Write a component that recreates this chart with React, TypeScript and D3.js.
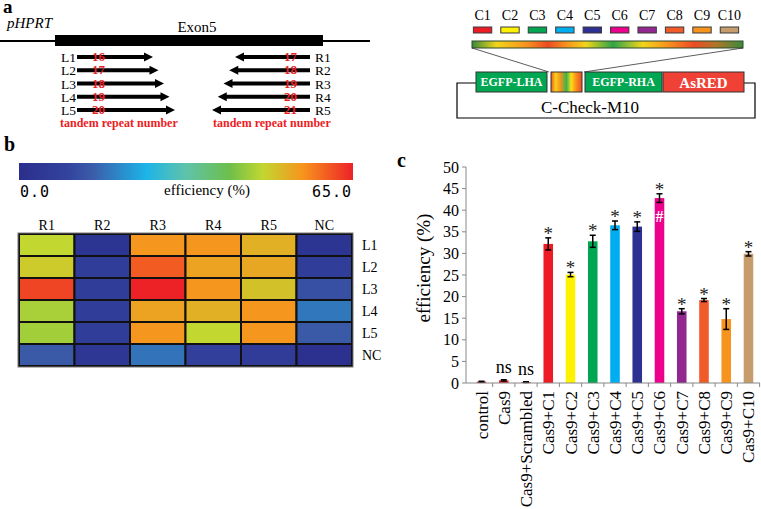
import React from "react";
import * as d3 from "d3";

// ---------- Panel a data ----------
const leftLabels = ["L1", "L2", "L3", "L4", "L5"];
const rightLabels = ["R1", "R2", "R3", "R4", "R5"];
const leftRepeats = [16, 17, 18, 19, 20];
const rightRepeats = [17, 18, 19, 20, 21];
const cassetteLabels = ["C1", "C2", "C3", "C4", "C5", "C6", "C7", "C8", "C9", "C10"];
const cassetteColors = ["#ed1c24", "#fff200", "#00a651", "#00aeef", "#2e3192", "#ec008c", "#92278f", "#f15a29", "#f7941d", "#c69c6d"];

// ---------- Panel b data ----------
const heatCols = ["R1", "R2", "R3", "R4", "R5", "NC"];
const heatRows = ["L1", "L2", "L3", "L4", "L5", "NC"];
const heatL1 = [47.5, 3, 55, 55, 52, 3];
const heatL2 = [49, 7, 60, 53.5, 53, 7];
const heatL3 = [62, 7, 65, 55, 50, 12];
const heatL4 = [45.5, 7, 53.5, 52, 55, 17.5];
const heatL5 = [45, 7, 55, 47.5, 55, 14];
const heatNC = [14, 4, 17, 8, 6, 1];
const heatValues = [heatL1, heatL2, heatL3, heatL4, heatL5, heatNC];
const heatMin = 0;
const heatMax = 65;
const heatStops = [0, 0.15, 0.22, 0.38, 0.5, 0.63, 0.73, 0.85, 1];
const heatStopColors = ["#2b2e8c", "#33449e", "#3b5ca9", "#1cb4e8", "#5fc3aa", "#6dbf4b", "#c2d730", "#f7941d", "#ed2227"];

// ---------- Panel c data ----------
const barCategories = ["control", "Cas9", "Cas9+Scrambled", "Cas9+C1", "Cas9+C2", "Cas9+C3", "Cas9+C4", "Cas9+C5", "Cas9+C6", "Cas9+C7", "Cas9+C8", "Cas9+C9", "Cas9+C10"];
const barMeans = [0.3, 0.6, 0.2, 32.2, 25.1, 32.8, 36.5, 36.2, 42.8, 16.6, 19.2, 14.8, 29.9];
const barErrors = [0.1, 0.15, 0.08, 1.4, 0.5, 1.4, 1.0, 1.1, 1.0, 0.6, 0.35, 2.4, 0.5];
const barColors = ["#ed1c24", "#ed1c24", "#ed1c24", ...cassetteColors];
const barMarks = ["", "ns", "ns", "*", "*", "*", "*", "*", "*", "*", "*", "*", "*"];
const barInner = ["", "", "", "", "", "", "", "", "#", "", "", "", ""];
const yTicks = [0, 5, 10, 15, 20, 25, 30, 35, 40, 45, 50];

const SERIF = "'Liberation Serif', 'Times New Roman', serif";
const MONO = "'DejaVu Sans Mono', monospace";

export default function App() {
  // panel a scales
  const rowY = d3.scaleLinear().domain([0, 4]).range([57, 110]);
  const leftTip = d3.scaleLinear().domain([16, 20]).range([153, 175]);
  const rightTip = d3.scaleLinear().domain([17, 21]).range([235, 212]);
  const cassX = d3.scaleBand<string>().domain(cassetteLabels).range([472, 740]).paddingInner(0.33).paddingOuter(0.05);

  // panel b scales
  const hx = d3.scaleBand<string>().domain(heatCols).range([19, 352]);
  const hy = d3.scaleBand<string>().domain(heatRows).range([234, 366]);
  const heatColor = d3
    .scaleLinear<string>()
    .domain(heatStops.map((t) => heatMin + t * (heatMax - heatMin)))
    .range(heatStopColors)
    .interpolate(d3.interpolateRgb);

  // panel c scales
  const x = d3.scaleBand<string>().domain(barCategories).range([470.5, 759.5]).paddingInner(0.57).paddingOuter(0.28);
  const y = d3.scaleLinear().domain([0, 50]).range([383, 167]);
  const step = x.step();

  const topGrad = [
    [0, "#3a8a3a"], [0.09, "#f2d51a"], [0.2, "#f7941d"], [0.28, "#ee4a24"], [0.35, "#f7941d"],
    [0.42, "#f2d51a"], [0.52, "#2ea44a"], [0.63, "#f2d51a"], [0.72, "#f7941d"], [0.82, "#ee4a24"],
    [0.9, "#b0762a"], [1, "#3a8a3a"],
  ];
  const midGrad = [
    [0, "#f15a24"], [0.15, "#f7d117"], [0.3, "#f7941d"], [0.5, "#39b54a"], [0.65, "#ffde17"], [0.8, "#f7941d"], [1, "#ee4a24"],
  ];

  return (
    <svg width={761} height={509} style={{ position: "absolute", left: 0, top: 0, background: "#fff" }} fontFamily={SERIF}>
      <defs>
        <linearGradient id="topGrad" x1="0" x2="1" y1="0" y2="0">
          {topGrad.map(([o, c], i) => <stop key={i} offset={o as number} stopColor={c as string} />)}
        </linearGradient>
        <linearGradient id="midGrad" x1="0" x2="1" y1="0" y2="0">
          {midGrad.map(([o, c], i) => <stop key={i} offset={o as number} stopColor={c as string} />)}
        </linearGradient>
        <linearGradient id="heatGrad" x1="0" x2="1" y1="0" y2="0">
          {heatStops.map((t, i) => <stop key={i} offset={t} stopColor={heatStopColors[i]} />)}
        </linearGradient>
      </defs>

      {/* ================= Panel a (left) ================= */}
      <text x={3} y={13} fontSize={19} fontWeight="bold">a</text>
      <text x={7} y={28} fontSize={15} fontStyle="italic">pHPRT</text>
      <text x={197} y={32} fontSize={15} textAnchor="middle">Exon5</text>
      <line x1={0} x2={370} y1={41} y2={41} stroke="#000" strokeWidth={2} />
      <rect x={55} y={35} width={268} height={11} fill="#000" />
      {leftRepeats.map((r, i) => {
        const yy = rowY(i);
        const tip = leftTip(r);
        return (
          <g key={"l" + i}>
            <text x={76} y={yy + 5} fontSize={13.5} textAnchor="end">{leftLabels[i]}</text>
            <line x1={77} x2={tip - 7} y1={yy} y2={yy} stroke="#000" strokeWidth={4} />
            <polygon points={`${tip},${yy} ${tip - 9},${yy - 4.5} ${tip - 9},${yy + 4.5}`} fill="#000" />
            <text x={92} y={yy + 4} fontSize={13} fontWeight="bold" fill="#ee1c25">{r}</text>
          </g>
        );
      })}
      {rightRepeats.map((r, i) => {
        const yy = rowY(i);
        const tip = rightTip(r);
        return (
          <g key={"r" + i}>
            <text x={315} y={yy + 5} fontSize={13.5}>{rightLabels[i]}</text>
            <line x1={310} x2={tip + 7} y1={yy} y2={yy} stroke="#000" strokeWidth={4} />
            <polygon points={`${tip},${yy} ${tip + 9},${yy - 4.5} ${tip + 9},${yy + 4.5}`} fill="#000" />
            <text x={297} y={yy + 4} fontSize={13} fontWeight="bold" fill="#ee1c25" textAnchor="end">{r}</text>
          </g>
        );
      })}
      <text x={60} y={127} fontSize={12} fontWeight="bold" fill="#ee1c25">tandem repeat number</text>
      <text x={213} y={127} fontSize={12} fontWeight="bold" fill="#ee1c25">tandem repeat number</text>

      {/* ================= Panel a (right) ================= */}
      {cassetteLabels.map((c, i) => {
        const bx = cassX(c)!;
        const bw = cassX.bandwidth();
        return (
          <g key={c}>
            <text x={bx + bw / 2} y={20} fontSize={14} textAnchor="middle">{c}</text>
            <rect x={bx} y={27} width={bw} height={6} fill={cassetteColors[i]} stroke="#3a3a3a" strokeWidth={1} />
          </g>
        );
      })}
      <rect x={472} y={41} width={271} height={7} fill="url(#topGrad)" stroke="#2d4a2d" strokeWidth={1} />
      <line x1={472} y1={48} x2={549} y2={72} stroke="#333" strokeWidth={0.8} />
      <line x1={743} y1={48} x2={584} y2={72} stroke="#333" strokeWidth={0.8} />
      <path d="M476,83 H457 V118 H755 V83 H744" fill="none" stroke="#000" strokeWidth={1.2} />
      <rect x={476} y={72} width={71} height={20} fill="#00a651" stroke="#333" strokeWidth={1} />
      <text x={511.5} y={86} fontSize={12} fontWeight="bold" fill="#fff" textAnchor="middle">EGFP-LHA</text>
      <rect x={551} y={72} width={31} height={20} fill="url(#midGrad)" stroke="#333" strokeWidth={1} />
      <rect x={585} y={72} width={77} height={20} fill="#00a651" stroke="#333" strokeWidth={1} />
      <text x={623.5} y={86} fontSize={12} fontWeight="bold" fill="#fff" textAnchor="middle">EGFP-RHA</text>
      <rect x={663} y={72} width={81} height={20} fill="#ef4136" stroke="#333" strokeWidth={1} />
      <text x={703.5} y={88} fontSize={15} fontWeight="bold" fill="#fff" textAnchor="middle">AsRED</text>
      <text x={590} y={113} fontSize={17} textAnchor="middle">C-Check-M10</text>

      {/* ================= Panel b ================= */}
      <text x={4} y={151} fontSize={20} fontWeight="bold">b</text>
      <rect x={19} y={163} width={334} height={17} fill="url(#heatGrad)" />
      <text x={20} y={197} fontSize={15} fontFamily={MONO} letterSpacing={1}>0.0</text>
      <text x={352} y={197} fontSize={15} fontFamily={MONO} letterSpacing={1} textAnchor="end">65.0</text>
      <text x={207} y={195} fontSize={15} textAnchor="middle">efficiency (%)</text>
      {heatCols.map((c) => (
        <text key={c} x={hx(c)! + hx.bandwidth() / 2} y={230} fontSize={14} textAnchor="middle">{c}</text>
      ))}
      {heatRows.map((r, ri) => (
        <g key={r}>
          {heatCols.map((c, ci) => (
            <rect key={c} x={hx(c)!} y={hy(r)!} width={hx.bandwidth()} height={hy.bandwidth()} fill={heatColor(heatValues[ri][ci])} stroke="#111" strokeWidth={2} />
          ))}
          <text x={362} y={hy(r)! + hy.bandwidth() / 2 + 5} fontSize={14}>{r}</text>
        </g>
      ))}
      <rect x={18} y={233} width={335} height={134} fill="none" stroke="#777" strokeWidth={1} />

      {/* ================= Panel c ================= */}
      <text x={397} y={167} fontSize={20} fontWeight="bold">c</text>
      <text transform={`translate(430,268) rotate(-90)`} fontSize={19} textAnchor="middle">efficiency (%)</text>
      <line x1={466} x2={466} y1={y(50)} y2={y(0)} stroke="#888" strokeWidth={1} />
      {yTicks.map((t) => (
        <g key={t}>
          <line x1={462} x2={466} y1={y(t)} y2={y(t)} stroke="#888" strokeWidth={1} />
          <text x={459} y={y(t) + 5.5} fontSize={16} textAnchor="end">{t}</text>
        </g>
      ))}
      {barCategories.map((c, i) => {
        const bx = x(c)!;
        const bw = x.bandwidth();
        const cx = bx + bw / 2;
        const top = y(barMeans[i] + barErrors[i]);
        const bot = y(barMeans[i] - barErrors[i]);
        return (
          <g key={c}>
            <rect x={bx} y={y(barMeans[i])} width={bw} height={y(0) - y(barMeans[i])} fill={barColors[i]} />
            <line x1={cx} x2={cx} y1={top} y2={bot} stroke="#000" strokeWidth={1.5} />
            <line x1={cx - 3} x2={cx + 3} y1={top} y2={top} stroke="#000" strokeWidth={1.5} />
            <line x1={cx - 3} x2={cx + 3} y1={bot} y2={bot} stroke="#000" strokeWidth={1.5} />
            {barMarks[i] === "*" && (
              <text x={cx} y={top + 2} fontSize={19} textAnchor="middle" fill="#222">*</text>
            )}
            {barMarks[i] === "ns" && (
              <text x={cx} y={top - 7} fontSize={18} textAnchor="middle">ns</text>
            )}
            {barInner[i] && (
              <text x={cx} y={222} fontSize={16} fontWeight="bold" textAnchor="middle" fill="#fff">{barInner[i]}</text>
            )}
            <line x1={cx + step / 2} x2={cx + step / 2} y1={383} y2={387} stroke="#888" strokeWidth={1} />
            <text transform={`translate(${cx + 6},391) rotate(-90)`} fontSize={17} textAnchor="end">{c}</text>
          </g>
        );
      })}
      <line x1={466} x2={760} y1={383} y2={383} stroke="#888" strokeWidth={1} />
    </svg>
  );
}
